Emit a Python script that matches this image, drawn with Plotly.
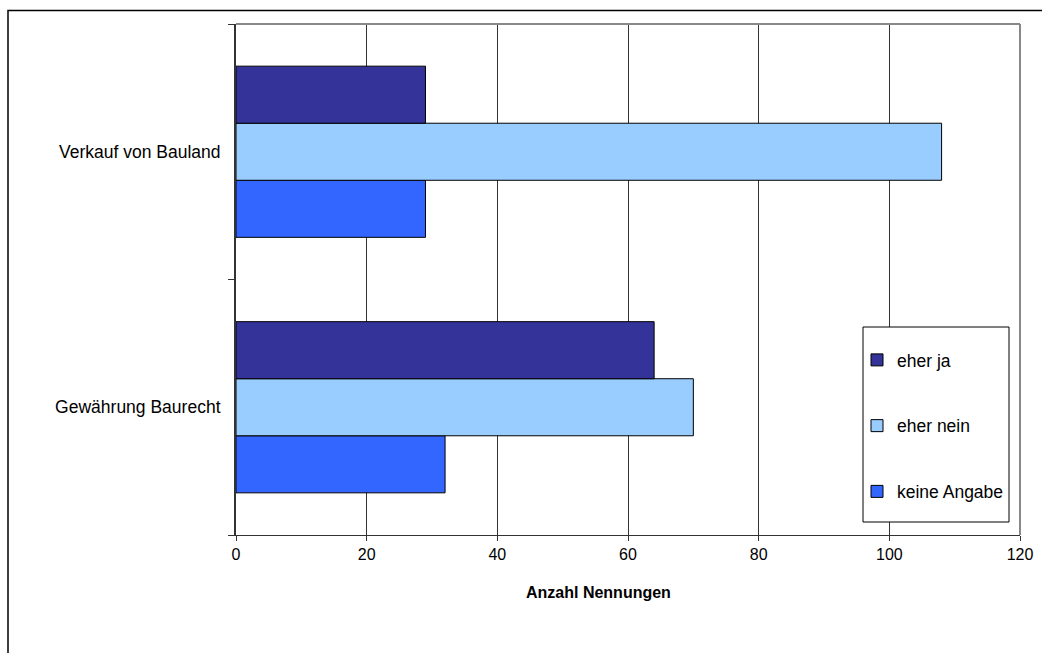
import plotly.graph_objects as go

categories = ["Gewährung Baurecht", "Verkauf von Bauland"]
series_names = ["eher ja", "eher nein", "keine Angabe"]
eher_ja = [64, 29]
eher_nein = [70, 108]
keine_angabe = [32, 29]
x_ticks = [0, 20, 40, 60, 80, 100, 120]

colors = {"eher ja": "#333399", "eher nein": "#99CCFF", "keine Angabe": "#3366FF"}
values = {"eher ja": eher_ja, "eher nein": eher_nein, "keine Angabe": keine_angabe}

FONT = "Liberation Sans, Arial, sans-serif"

fig = go.Figure()
# add in reverse so "eher ja" is the top bar of each group
for name in reversed(series_names):
    fig.add_trace(go.Bar(
        y=categories, x=values[name], name=name, orientation="h",
        marker=dict(color=colors[name], line=dict(color="black", width=1)),
        legendgroup=name, legendrank=series_names.index(name) + 1,
    ))

W, H = 1042, 653
L, R, T, B = 236, 22, 24, 118
pw, ph = W - L - R, H - T - B

def px(x):
    return (x - L) / pw

def py(y):
    return (H - B - y) / ph

fig.update_layout(
    width=W, height=H, autosize=False,
    margin=dict(l=L, r=R, t=T, b=B, autoexpand=False),
    paper_bgcolor="white", plot_bgcolor="white",
    font=dict(family=FONT, size=16, color="black"),
    barmode="group", bargap=0.33, bargroupgap=0,
    showlegend=True,
    legend=dict(
        x=px(857), y=py(342), xanchor="left", yanchor="top",
        borderwidth=0, bgcolor="rgba(0,0,0,0)",
        traceorder="grouped", tracegroupgap=40, itemwidth=30,
        font=dict(size=17.5, family=FONT),
    ),
    xaxis=dict(
        range=[0, 120], tickvals=x_ticks, ticktext=[str(v) for v in x_ticks],
        showgrid=True, gridcolor="#333333", gridwidth=1,
        showline=True, linecolor="#333333", linewidth=1,
        ticks="outside", ticklen=5, tickcolor="#333333",
        zeroline=False, tickfont=dict(size=16), automargin=False,
    ),
    yaxis=dict(
        categoryorder="array", categoryarray=categories,
        showline=True, linecolor="#333333", linewidth=2,
        ticks="outside", ticklen=6, tickcolor="#333333", tickson="boundaries",
        showgrid=False, tickfont=dict(size=17.5), ticklabelstandoff=10,
        automargin=False,
    ),
    annotations=[dict(
        text="<b>Anzahl Nennungen</b>", xref="paper", yref="paper",
        x=px(598), y=py(592), xanchor="center", yanchor="middle",
        showarrow=False, font=dict(size=16, family=FONT),
    )],
    shapes=[
        dict(type="line", xref="paper", yref="paper", x0=0, x1=1, y0=1, y1=1,
             line=dict(color="#888888", width=2), layer="above"),
        dict(type="line", xref="paper", yref="paper", x0=1, x1=1, y0=0, y1=1,
             line=dict(color="#888888", width=2), layer="above"),
        dict(type="rect", xref="paper", yref="paper",
             x0=px(8), x1=px(1046), y0=py(660), y1=py(10.5),
             line=dict(color="black", width=1.5), fillcolor="rgba(0,0,0,0)"),
        # legend frame
        dict(type="rect", xref="paper", yref="paper",
             x0=px(863), x1=px(1009), y0=py(522), y1=py(327),
             line=dict(color="black", width=1), fillcolor="white", layer="above"),
    ],
)

fig.write_html("out.html", config={"displayModeBar": False},
               post_script="document.body.style.margin='0px';")
